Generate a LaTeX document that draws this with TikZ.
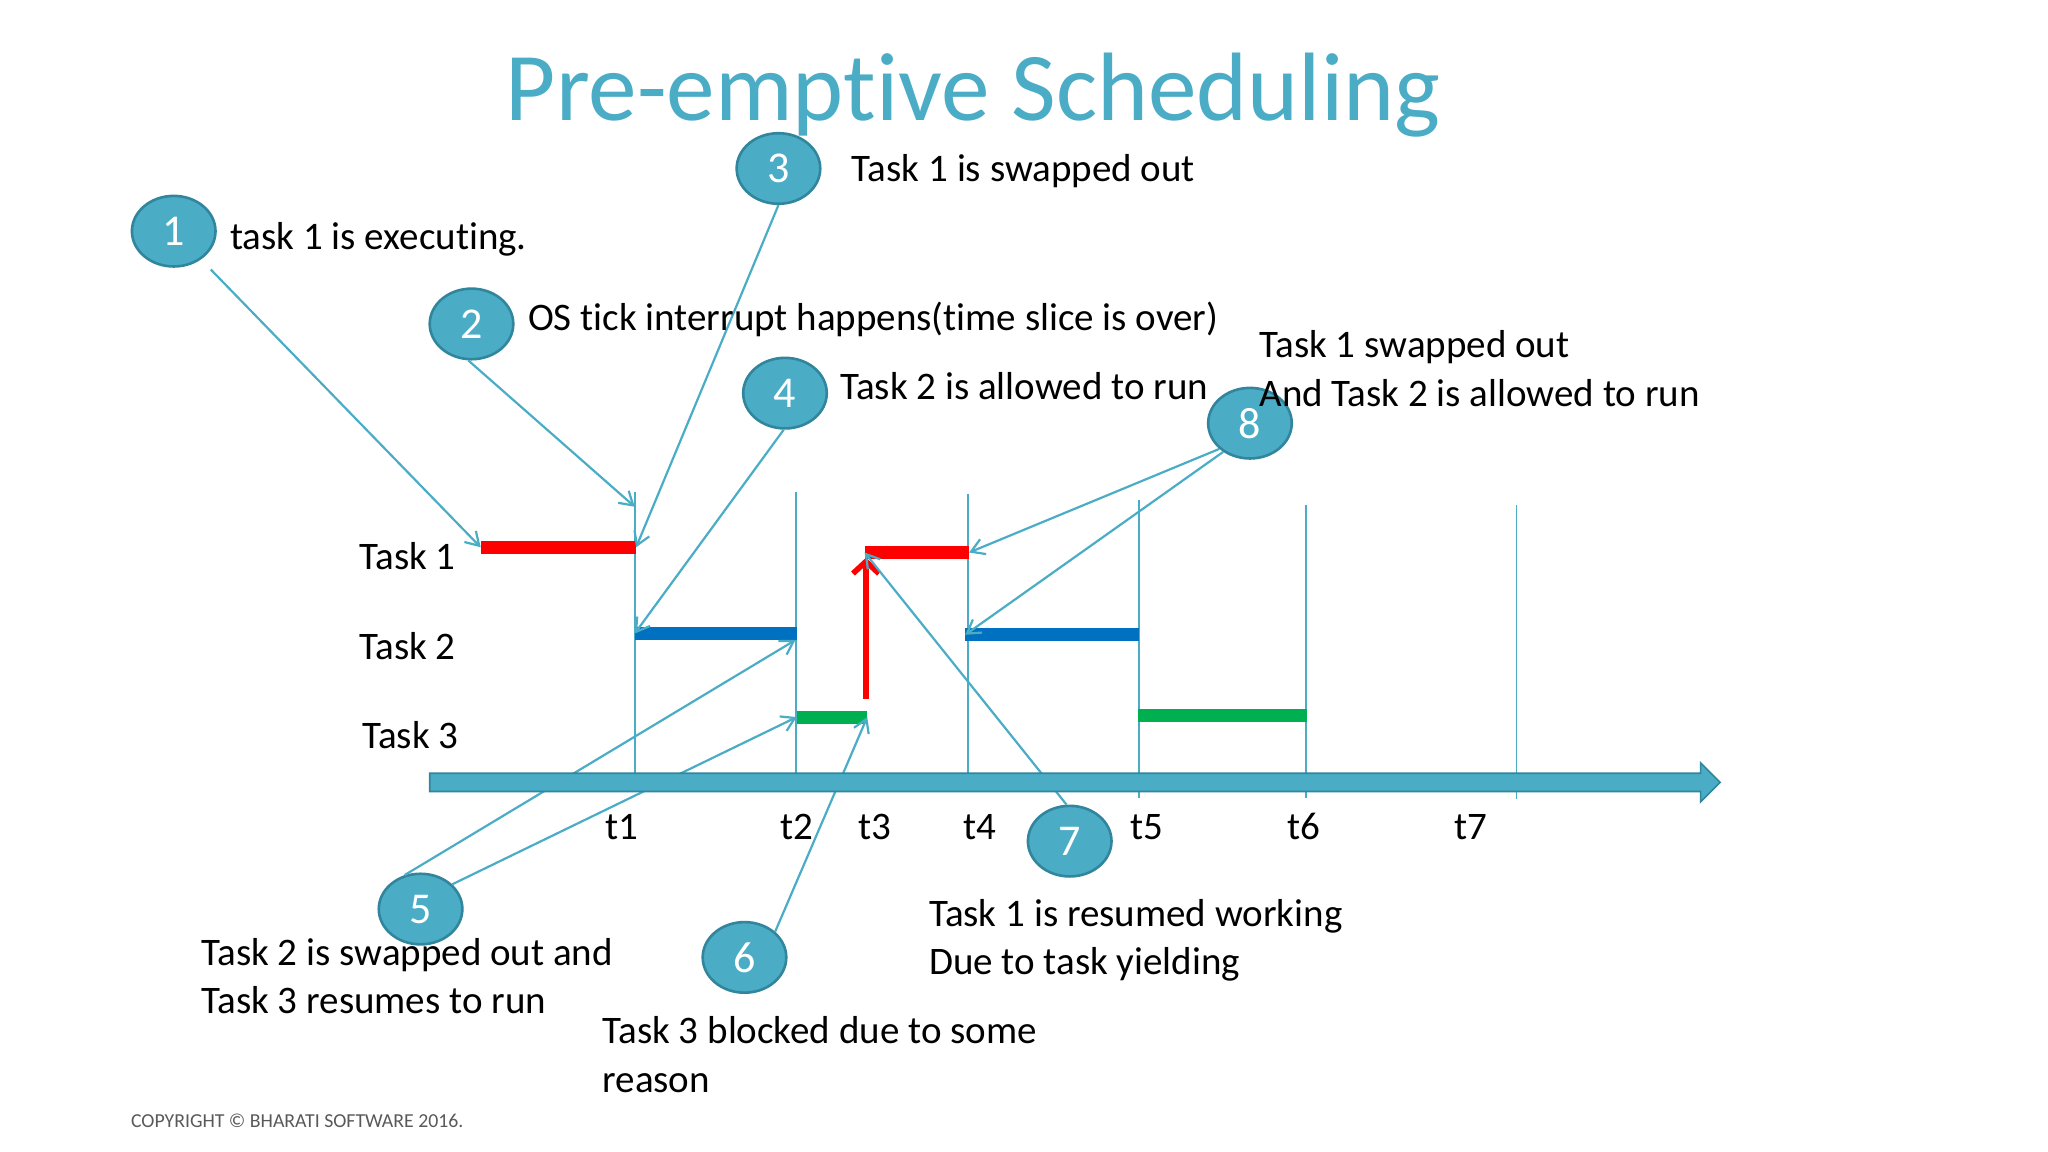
\documentclass[tikz,border=0pt]{standalone}
\usepackage{fontspec}
\setmainfont{Carlito}[RawFeature={-liga;-calt;-clig;-dlig}]
\usetikzlibrary{shapes.geometric,arrows.meta}
\definecolor{accteal}{HTML}{4BACC6}
\definecolor{accdark}{HTML}{31859C}
\definecolor{barred}{HTML}{FF0000}
\definecolor{barblue}{HTML}{0070C0}
\definecolor{bargreen}{HTML}{00B050}
\definecolor{copygray}{HTML}{595959}
\newcommand{\nolig}{\kern0pt }
\begin{document}
\begin{tikzpicture}[x=0.6531pt,y=-0.6531pt,
  num/.style={ellipse, fill=accteal, draw=accdark, line width=1.3pt, minimum width=41.8pt, minimum height=35.3pt, inner sep=0pt, text=white, font=\fontsize{22}{22}\selectfont},
  lbl/.style={anchor=base west, font=\fontsize{19.5}{24.2}\selectfont, inner sep=0pt},
  tlbl/.style={anchor=base, font=\fontsize{19.5}{24.2}\selectfont, inner sep=0pt},
  conn/.style={draw=accteal, line width=1.1pt, -{Straight Barb[length=6.5pt,width=8pt]}},
  tickline/.style={draw=accteal, line width=0.8pt},
  taskbar/.style={line width=6.5pt}]
\useasboundingbox (0,0) rectangle (1568,882);

% title
\node[anchor=base, inner sep=0pt, text=accteal, font=\fontsize{48.6}{50}\selectfont] (title) at (745,92) {Pre-empt\nolig ive Scheduling};

% coordinates
\coordinate (r1s) at (368,419); \coordinate (r1e) at (487,419);
\coordinate (b1s) at (486,485); \coordinate (b1e) at (610,485);
\coordinate (g1s) at (610,549); \coordinate (g1e) at (664,549);
\coordinate (r2s) at (662,423); \coordinate (r2e) at (742,423);
\coordinate (b2s) at (739,486); \coordinate (b2e) at (872,486);
\coordinate (g2s) at (871,548); \coordinate (g2e) at (1001,548);
\coordinate (ru1) at (663,535); \coordinate (ru2) at (663,427);
\coordinate (a2tip) at (486,388);
\coordinate (a5tip) at (609,490);

% tick lines
\coordinate (v1a) at (486,377); \coordinate (v1b) at (486,599);
\coordinate (v2a) at (609.5,377); \coordinate (v2b) at (609.5,599);
\coordinate (v4a) at (741,378); \coordinate (v4b) at (741,599);
\coordinate (v5a) at (872,383); \coordinate (v5b) at (872,611);
\coordinate (v6a) at (1000,387); \coordinate (v6b) at (1000,611);
\coordinate (v7a) at (1161,387); \coordinate (v7b) at (1161,612);
\draw[tickline] (v1a) -- (v1b);
\draw[tickline] (v2a) -- (v2b);
\draw[tickline] (v4a) -- (v4b);
\draw[tickline] (v5a) -- (v5b);
\draw[tickline] (v6a) -- (v6b);
\draw[tickline] (v7a) -- (v7b);

% task bars
\draw[taskbar, barred] (r1s) -- (r1e);
\draw[taskbar, barblue] (b1s) -- (b1e);
\draw[taskbar, bargreen] (g1s) -- (g1e);
\draw[taskbar, barred] (r2s) -- (r2e);
\draw[taskbar, barblue] (b2s) -- (b2e);
\draw[taskbar, bargreen] (g2s) -- (g2e);
\draw[barred, line width=2.8pt, -{Straight Barb[length=6pt,width=13pt]}] (ru1) -- (ru2);

% circles
\node[num] (n1) at (133,177) {1};
\node[num] (n2) at (361,248) {2};
\node[num] (n3) at (596,129) {3};
\node[num] (n4) at (601,301) {4};
\node[num] (n5) at (322,696) {5};
\node[num] (n6) at (570,733) {6};
\node[num] (n7) at (819,644) {7};
\node[num] (n8) at (957,324) {8};

% connectors
\draw[conn, shorten <=7pt] (n1.-46) -- (r1s);
\draw[conn] (n2.-95) -- (a2tip);
\draw[conn] (n3.south) -- (r1e);
\draw[conn] (n4.-92) -- (b1s);
\draw[conn] (n5.115) -- (a5tip);
\draw[conn] (n5.38) -- (g1s);
\draw[conn] (n6.40) -- (g1e);
\draw[conn] (n7.95) -- (r2s);
\draw[conn] (n8.-140) -- (r2e);
\draw[conn] (n8.-133) -- (b2s);

% timeline
\draw[fill=accteal, draw=accdark, line width=0.8pt] (329,592) -- (1302,592) -- (1302,584) -- (1317,599) -- (1302,614) -- (1302,606) -- (329,606) -- cycle;

% task labels
\node[lbl] (task1) at (275,436) {Task 1};
\node[lbl] (task2) at (275,505) {Task 2};
\node[lbl] (task3) at (277,573) {Task 3};

% time labels
\node[tlbl] (t1) at (476,643) {t1};
\node[tlbl] (t2) at (610,643) {t2};
\node[tlbl] (t3) at (670,643) {t3};
\node[tlbl] (t4) at (750,643) {t4};
\node[tlbl] (t5) at (878,643) {t5};
\node[tlbl] (t6) at (998,643) {t6};
\node[tlbl] (t7) at (1126,643) {t7};

% annotations
\node[lbl] (l1) at (176,191) {task 1 is execut\nolig ing.};
\node[lbl] (l2) at (404,253) {OS tick interrupt happens(t\nolig ime slice is over)};
\node[lbl] (l3) at (652,139) {Task 1 is swapped out};
\node[lbl] (l4) at (643,306) {Task 2 is allowed to run};
\node[lbl] (l8) at (964,274) {\begin{tabular}[t]{@{}l@{}}Task 1 swapped out\\And Task 2 is allowed to run\end{tabular}};
\node[lbl] (l5) at (154,739) {\begin{tabular}[t]{@{}l@{}}Task 2 is swapped out and\\Task 3 resumes to run\end{tabular}};
\node[lbl] (l6) at (461,799) {\begin{tabular}[t]{@{}l@{}}Task 3 blocked due to some\\reason\end{tabular}};
\node[lbl] (l7) at (711,709) {\begin{tabular}[t]{@{}l@{}}Task 1 is resumed working\\Due to task yielding\end{tabular}};

% copyright
\node[anchor=base west, inner sep=0pt, text=copygray, font=\fontsize{9.9}{12}\selectfont] (copy) at (100,863) {COPYRIGHT © BHARATI SOFTWARE 2016.};
\end{tikzpicture}
\end{document}
